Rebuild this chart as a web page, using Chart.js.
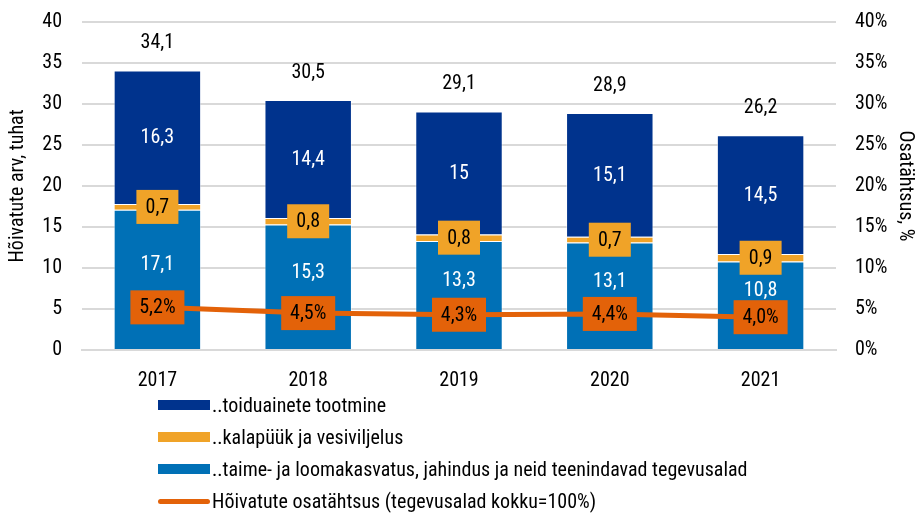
<!DOCTYPE html>
<html>
<head>
<meta charset="utf-8">
<script src="https://cdn.jsdelivr.net/npm/chart.js@4.4.1/dist/chart.umd.min.js"></script>
<style>
  html, body { margin: 0; padding: 0; background: #fff; }
  #wrap { position: relative; width: 919px; height: 518px; }
  #legend { position: absolute; left: 158px; top: 389px; font-family: "Roboto Condensed", "Liberation Sans Narrow", Roboto, sans-serif; font-size: 20px; color: #000; }
  #legend div { height: 32px; display: flex; align-items: center; }
  #legend span.sw { display: inline-block; width: 52px; height: 10px; margin-right: 2px; }
  #legend span.ln { display: inline-block; width: 52px; height: 5px; border-radius: 3px; margin-right: 2px; }
</style>
</head>
<body>
<div id="wrap">
  <canvas id="chart" width="919" height="518"></canvas>
  <div id="legend"></div>
</div>
<script>
// values
const years = ["2017", "2018", "2019", "2020", "2021"];
const taimeJaLooma = [17.1, 15.3, 13.3, 13.1, 10.8];
const kalapuuk = [0.7, 0.8, 0.8, 0.7, 0.9];
const toiduained = [16.3, 14.4, 15, 15.1, 14.5];
const kokku = [34.1, 30.5, 29.1, 28.9, 26.2];
const osatahtsus = [5.2, 4.5, 4.3, 4.4, 4.0];

const FONT = '"Roboto Condensed", "Liberation Sans Narrow", Roboto, sans-serif';
const darkBlue = "#00338D";
const lightBlue = "#0070B6";
const orange = "#F0A328";
const red = "#E36209";

function fmt(v, digits) {
    return v.toFixed(digits).replace(".", ",");
}

// draws the numbers on the bars and on the line
const labelPlugin = {
    id: "labels",
    afterDatasetsDraw(chart) {
        const ctx = chart.ctx;
        ctx.save();
        ctx.font = "20px " + FONT;
        ctx.textAlign = "center";
        ctx.textBaseline = "middle";

        chart.data.datasets.forEach((ds, di) => {
            const meta = chart.getDatasetMeta(di);
            meta.data.forEach((el, i) => {
                const v = ds.data[i];
                if (ds.type === "line") {
                    const t = fmt(v, 1) + "%";
                    ctx.fillStyle = red;
                    ctx.fillRect(el.x - 27, el.y - 17, 54, 34);
                    ctx.fillStyle = "#000";
                    ctx.fillText(t, el.x, el.y + 1);
                    return;
                }
                // labels of the bottom segment sit a bit higher, clear of the line labels
                const cy = (el.y + el.base) / 2 + (ds.labelShift || 0);
                const t = String(v).replace(".", ",");
                if (ds.boxLabel) {
                    ctx.fillStyle = ds.backgroundColor;
                    ctx.fillRect(el.x - 21, cy - 17, 42, 34);
                    ctx.fillStyle = "#000";
                } else {
                    ctx.fillStyle = "#fff";
                }
                ctx.fillText(t, el.x, cy + 1);
                if (ds.isTop) {
                    ctx.fillStyle = "#000";
                    ctx.fillText(fmt(kokku[i], 1), el.x, el.y - 27);
                }
            });
        });
        ctx.restore();
    }
};

const datasets = [
    { label: "..taime- ja loomakasvatus, jahindus ja neid teenindavad tegevusalad", data: taimeJaLooma, backgroundColor: lightBlue, labelShift: -15 },
    { label: "..kalapüük ja vesiviljelus", data: kalapuuk, backgroundColor: orange, boxLabel: true },
    { label: "..toiduainete tootmine", data: toiduained, backgroundColor: darkBlue, isTop: true },
];
datasets.forEach(d => {
    d.type = "bar";
    d.stack = "s";
    d.order = 1;
    d.borderColor = "rgba(255,255,255,0.5)";
    d.borderWidth = 1;
    d.barPercentage = 0.58;
    d.categoryPercentage = 1;
});
datasets.push({
    type: "line",
    label: "Hõivatute osatähtsus (tegevusalad kokku=100%)",
    data: osatahtsus,
    yAxisID: "y1",
    borderColor: red,
    backgroundColor: red,
    borderWidth: 5,
    pointRadius: 0,
    order: 0
});

Chart.defaults.font.family = FONT;
Chart.defaults.font.size = 20;
Chart.defaults.color = "#000";

// fix the side axes to the reference widths and drop their extra top/bottom room
function fixSide(width) {
    return s => {
        s.width = width;
        s.paddingTop = 0;
        s.paddingBottom = 0;
    };
}

const chart = new Chart(document.getElementById("chart"), {
    data: { labels: years, datasets: datasets },
    options: {
        responsive: false,
        animation: false,
        layout: { padding: { left: 0, right: 0, top: 22, bottom: 118 } },
        plugins: { legend: { display: false }, tooltip: { enabled: false } },
        scales: {
            x: {
                stacked: true,
                grid: { display: false },
                border: { color: "#d9d9d9", width: 2 },
                ticks: { padding: 11 },
                afterFit: s => { s.height = 50; }
            },
            y: {
                stacked: true,
                min: 0, max: 40,
                ticks: { stepSize: 5, padding: 20 },
                grid: { color: "#d9d9d9", lineWidth: 2, drawTicks: false },
                border: { display: false },
                title: { display: true, text: "Hõivatute arv, tuhat", padding: 6 },
                afterFit: fixSide(82)
            },
            y1: {
                position: "right",
                min: 0, max: 40,
                ticks: { stepSize: 5, padding: 19, callback: v => v + "%" },
                grid: { display: false, drawTicks: false },
                border: { display: false },
                title: { display: true, text: "Osatähtsus, %", padding: 2 },
                afterFit: fixSide(83)
            }
        }
    },
    plugins: [labelPlugin]
});

// legend in the reference order: bars from top of the stack, then the line
const legend = document.getElementById("legend");
const legendOrder = [2, 1, 0, 3];
legendOrder.forEach(i => {
    const ds = chart.data.datasets[i];
    const row = document.createElement("div");
    const sw = document.createElement("span");
    sw.className = ds.type === "line" ? "ln" : "sw";
    sw.style.background = ds.type === "line" ? ds.borderColor : ds.backgroundColor;
    row.appendChild(sw);
    row.appendChild(document.createTextNode(ds.label));
    legend.appendChild(row);
});
</script>
</body>
</html>
